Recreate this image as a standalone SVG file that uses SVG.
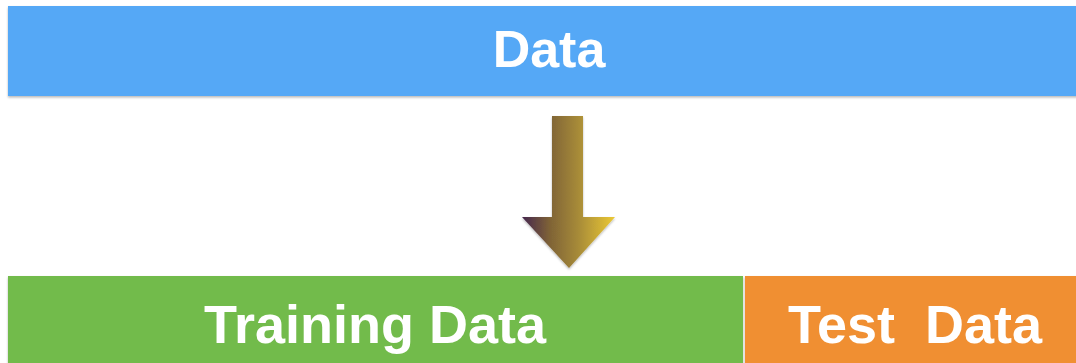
<svg xmlns="http://www.w3.org/2000/svg" width="1076" height="363" viewBox="0 0 1076 363">
  <defs>
    <style>
      .label { font-family: "Liberation Sans", Arial, sans-serif; font-weight: bold; fill: #ffffff; text-anchor: middle; white-space: pre; }
    </style>
    <filter id="shadow" x="-5%" y="-20%" width="110%" height="140%">
      <feDropShadow dx="0" dy="1.5" stdDeviation="1.2" flood-color="#000000" flood-opacity="0.28"/>
    </filter>
    <linearGradient id="arrowFill" x1="522" y1="0" x2="615" y2="0" gradientUnits="userSpaceOnUse">
      <stop offset="0" stop-color="#45264e"/>
      <stop offset="0.3" stop-color="#7f6336"/>
      <stop offset="0.6" stop-color="#a68a38"/>
      <stop offset="1" stop-color="#ecc935"/>
    </linearGradient>
  </defs>

  <rect width="1076" height="363" fill="#ffffff"/>

  <g id="data">
    <rect x="8" y="6" width="1080" height="90" fill="#55a8f6" filter="url(#shadow)"/>
    <text class="label" x="549" y="67" font-size="52">Data</text>
  </g>

  <g id="connectors">
    <path d="M552,116 H583 V217 H615 L569,268 L522,217 H552 Z" fill="url(#arrowFill)" filter="url(#shadow)"/>
  </g>

  <g id="training-data">
    <rect x="8" y="276" width="735" height="100" fill="#72bb4b" filter="url(#shadow)"/>
    <text class="label" x="375" y="343" font-size="54">Training Data</text>
  </g>

  <g id="test-data">
    <rect x="745" y="276" width="340" height="100" fill="#f08f31" filter="url(#shadow)"/>
    <text class="label" x="915" y="343" font-size="54">Test  Data</text>
  </g>
</svg>
